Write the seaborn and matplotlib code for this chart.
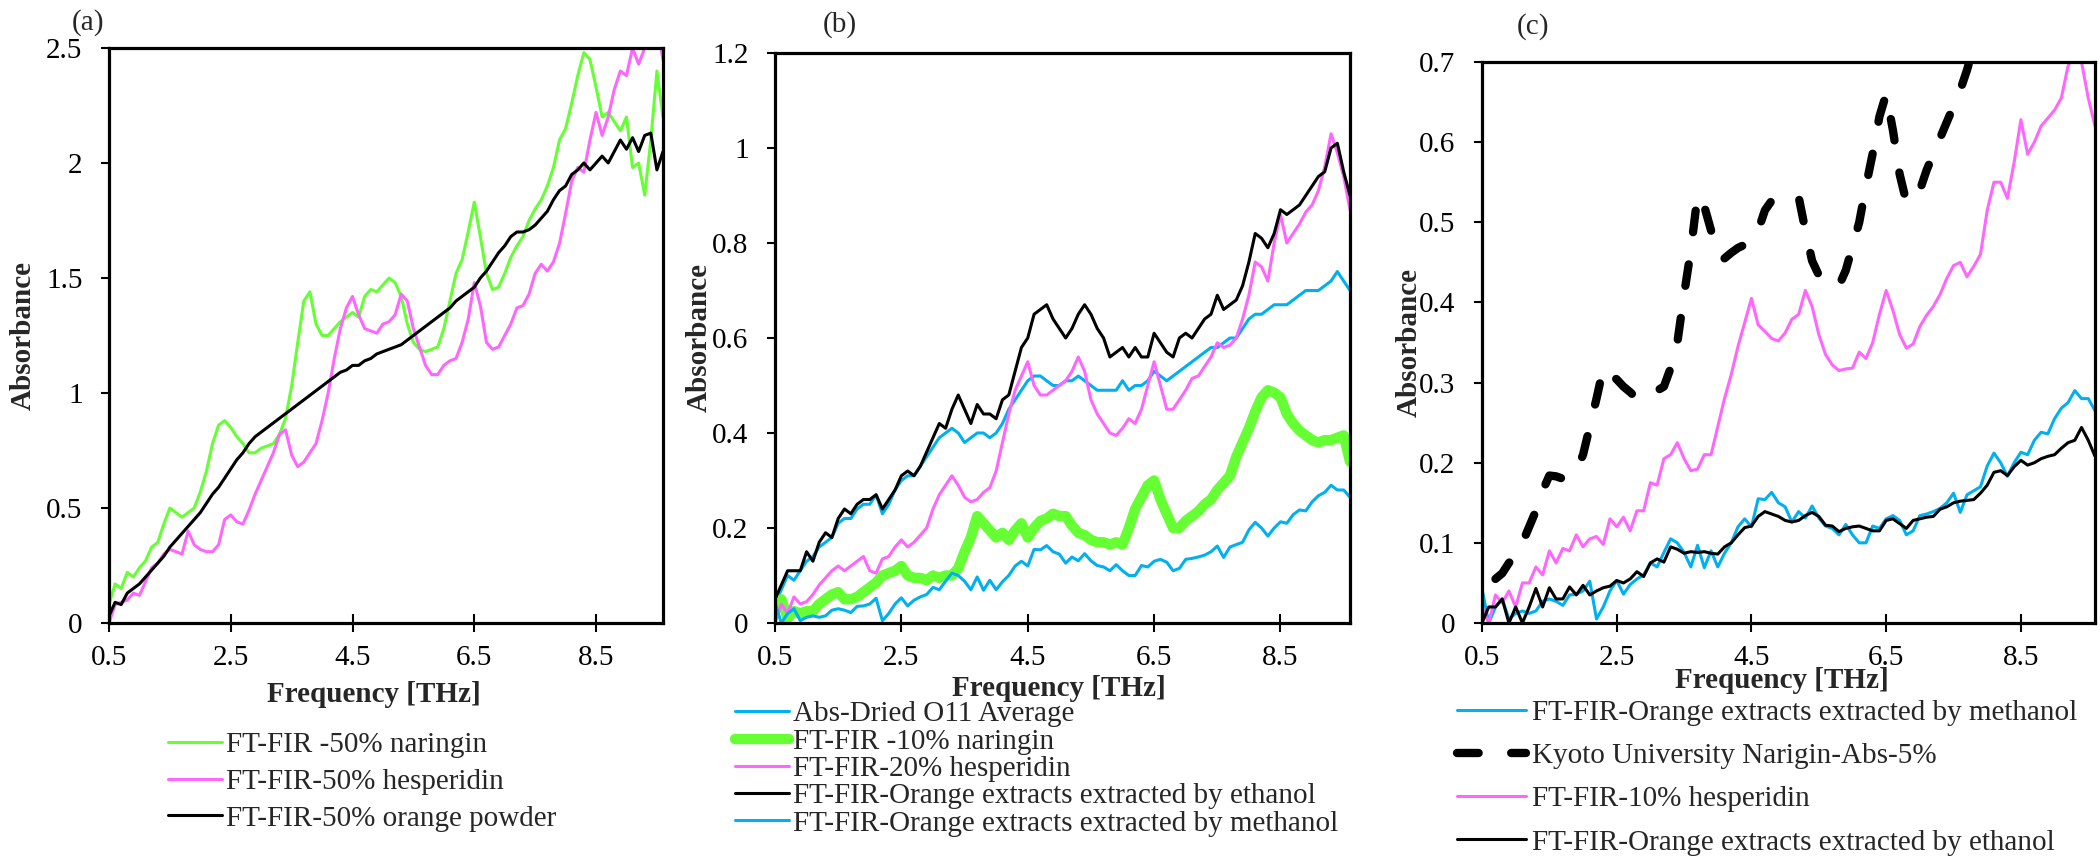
import numpy as np
import pandas as pd
import matplotlib
matplotlib.use("Agg")
import matplotlib.pyplot as plt
import seaborn as sns

# ---------------- data ----------------
freq = [0.5, 0.6, 0.7, 0.8, 0.9, 1.0, 1.1, 1.2, 1.3, 1.4,
        1.5, 1.6, 1.7, 1.8, 1.9, 2.0, 2.1, 2.2, 2.3, 2.4,
        2.5, 2.6, 2.7, 2.8, 2.9, 3.0, 3.1, 3.2, 3.3, 3.4,
        3.5, 3.6, 3.7, 3.8, 3.9, 4.0, 4.1, 4.2, 4.3, 4.4,
        4.5, 4.6, 4.7, 4.8, 4.9, 5.0, 5.1, 5.2, 5.3, 5.4,
        5.5, 5.6, 5.7, 5.8, 5.9, 6.0, 6.1, 6.2, 6.3, 6.4,
        6.5, 6.6, 6.7, 6.8, 6.9, 7.0, 7.1, 7.2, 7.3, 7.4,
        7.5, 7.6, 7.7, 7.8, 7.9, 8.0, 8.1, 8.2, 8.3, 8.4,
        8.5, 8.6, 8.7, 8.8, 8.9, 9.0, 9.1, 9.2, 9.3, 9.4,
        9.5, 9.6]

# panel (a)
a_naringin50 = [0.08, 0.17, 0.15, 0.22, 0.20, 0.24, 0.27, 0.33, 0.35, 0.43,
                0.50, 0.48, 0.46, 0.48, 0.50, 0.57, 0.66, 0.78, 0.86, 0.88,
                0.85, 0.81, 0.78, 0.74, 0.74, 0.76, 0.77, 0.78, 0.82, 0.89,
                1.03, 1.22, 1.40, 1.44, 1.30, 1.25, 1.25, 1.28, 1.31, 1.33,
                1.35, 1.33, 1.42, 1.45, 1.44, 1.47, 1.50, 1.48, 1.42, 1.30,
                1.22, 1.19, 1.18, 1.19, 1.20, 1.28, 1.40, 1.52, 1.58, 1.70,
                1.83, 1.68, 1.52, 1.45, 1.46, 1.52, 1.59, 1.64, 1.68, 1.75,
                1.80, 1.84, 1.90, 1.98, 2.10, 2.15, 2.26, 2.38, 2.48, 2.45,
                2.33, 2.20, 2.22, 2.18, 2.14, 2.20, 1.98, 2.00, 1.86, 2.10,
                2.40, 2.20]
a_hesperidin50 = [0.00, 0.08, 0.09, 0.10, 0.13, 0.12, 0.18, 0.24, 0.26, 0.30,
                  0.32, 0.31, 0.30, 0.40, 0.34, 0.32, 0.31, 0.31, 0.34, 0.45,
                  0.47, 0.44, 0.43, 0.49, 0.56, 0.62, 0.68, 0.74, 0.82, 0.84,
                  0.73, 0.68, 0.70, 0.74, 0.78, 0.88, 1.00, 1.15, 1.28, 1.37,
                  1.42, 1.34, 1.28, 1.27, 1.26, 1.30, 1.31, 1.34, 1.43, 1.40,
                  1.28, 1.20, 1.12, 1.08, 1.08, 1.12, 1.14, 1.15, 1.22, 1.32,
                  1.48, 1.38, 1.22, 1.19, 1.20, 1.25, 1.30, 1.37, 1.38, 1.43,
                  1.52, 1.56, 1.53, 1.57, 1.65, 1.78, 1.92, 1.98, 1.96, 2.10,
                  2.22, 2.12, 2.20, 2.32, 2.40, 2.38, 2.50, 2.43, 2.50, 2.60,
                  2.60, 2.45]
a_orange50 = [0.03, 0.09, 0.08, 0.13, 0.15, 0.17, 0.20, 0.23, 0.26, 0.29,
              0.33, 0.36, 0.39, 0.42, 0.45, 0.48, 0.52, 0.56, 0.59, 0.63,
              0.67, 0.71, 0.74, 0.78, 0.81, 0.83, 0.85, 0.87, 0.89, 0.91,
              0.93, 0.95, 0.97, 0.99, 1.01, 1.03, 1.05, 1.07, 1.09, 1.10,
              1.12, 1.12, 1.14, 1.15, 1.17, 1.18, 1.19, 1.20, 1.21, 1.23,
              1.25, 1.27, 1.29, 1.31, 1.33, 1.35, 1.37, 1.40, 1.42, 1.44,
              1.46, 1.50, 1.53, 1.57, 1.61, 1.64, 1.68, 1.70, 1.70, 1.71,
              1.73, 1.76, 1.79, 1.84, 1.88, 1.90, 1.95, 1.97, 2.00, 1.97,
              2.00, 2.03, 2.00, 2.05, 2.10, 2.06, 2.11, 2.05, 2.12, 2.13,
              1.97, 2.05]

# panel (b)
b_dried_o11 = [0.04, 0.07, 0.10, 0.09, 0.11, 0.13, 0.14, 0.16, 0.17, 0.18,
               0.21, 0.22, 0.22, 0.24, 0.25, 0.25, 0.27, 0.23, 0.25, 0.28,
               0.30, 0.31, 0.31, 0.33, 0.35, 0.37, 0.39, 0.40, 0.41, 0.40,
               0.38, 0.39, 0.40, 0.40, 0.39, 0.40, 0.42, 0.45, 0.47, 0.49,
               0.51, 0.52, 0.52, 0.51, 0.50, 0.50, 0.51, 0.51, 0.52, 0.51,
               0.50, 0.49, 0.49, 0.49, 0.49, 0.51, 0.49, 0.50, 0.50, 0.51,
               0.53, 0.52, 0.51, 0.52, 0.53, 0.54, 0.55, 0.56, 0.57, 0.58,
               0.58, 0.59, 0.60, 0.60, 0.62, 0.64, 0.65, 0.65, 0.66, 0.67,
               0.67, 0.67, 0.68, 0.69, 0.70, 0.70, 0.70, 0.71, 0.72, 0.74,
               0.72, 0.70]
b_naringin10 = [0.030, 0.050, 0.010, 0.025, 0.020, 0.025, 0.025, 0.040, 0.050, 0.060,
                0.065, 0.050, 0.050, 0.055, 0.065, 0.075, 0.085, 0.100, 0.105, 0.110,
                0.120, 0.100, 0.095, 0.095, 0.090, 0.100, 0.095, 0.100, 0.100, 0.115,
                0.150, 0.180, 0.225, 0.210, 0.195, 0.180, 0.190, 0.175, 0.195, 0.210,
                0.180, 0.200, 0.215, 0.220, 0.230, 0.225, 0.225, 0.205, 0.190, 0.185,
                0.175, 0.170, 0.170, 0.165, 0.170, 0.165, 0.200, 0.240, 0.265, 0.290,
                0.300, 0.260, 0.230, 0.200, 0.200, 0.215, 0.225, 0.235, 0.250, 0.260,
                0.280, 0.295, 0.310, 0.350, 0.380, 0.410, 0.445, 0.475, 0.490, 0.485,
                0.475, 0.440, 0.420, 0.405, 0.395, 0.385, 0.380, 0.385, 0.385, 0.390,
                0.395, 0.340]
b_hesperidin20 = [0.000, 0.040, 0.020, 0.055, 0.040, 0.045, 0.060, 0.080, 0.095, 0.110,
                  0.120, 0.110, 0.120, 0.130, 0.140, 0.110, 0.105, 0.135, 0.140, 0.160,
                  0.175, 0.160, 0.170, 0.185, 0.200, 0.240, 0.270, 0.290, 0.310, 0.290,
                  0.265, 0.255, 0.260, 0.275, 0.285, 0.320, 0.380, 0.440, 0.490, 0.520,
                  0.550, 0.500, 0.480, 0.480, 0.490, 0.500, 0.510, 0.530, 0.560, 0.530,
                  0.470, 0.440, 0.420, 0.400, 0.395, 0.410, 0.430, 0.420, 0.450, 0.500,
                  0.550, 0.500, 0.450, 0.450, 0.470, 0.490, 0.515, 0.520, 0.540, 0.560,
                  0.590, 0.580, 0.585, 0.600, 0.640, 0.690, 0.760, 0.750, 0.720, 0.800,
                  0.860, 0.800, 0.820, 0.840, 0.865, 0.880, 0.910, 0.960, 1.030, 0.990,
                  0.940, 0.870]
b_ethanol = [0.05, 0.08, 0.11, 0.11, 0.11, 0.15, 0.13, 0.17, 0.19, 0.18,
             0.22, 0.24, 0.23, 0.25, 0.26, 0.26, 0.27, 0.24, 0.26, 0.28,
             0.31, 0.32, 0.31, 0.33, 0.36, 0.39, 0.42, 0.41, 0.45, 0.48,
             0.45, 0.42, 0.46, 0.44, 0.44, 0.43, 0.47, 0.48, 0.53, 0.58,
             0.60, 0.65, 0.66, 0.67, 0.64, 0.62, 0.60, 0.62, 0.65, 0.67,
             0.65, 0.62, 0.60, 0.56, 0.57, 0.58, 0.56, 0.58, 0.56, 0.56,
             0.61, 0.59, 0.57, 0.56, 0.60, 0.61, 0.60, 0.62, 0.64, 0.65,
             0.69, 0.66, 0.67, 0.68, 0.71, 0.76, 0.82, 0.81, 0.79, 0.82,
             0.87, 0.86, 0.87, 0.88, 0.90, 0.92, 0.94, 0.95, 1.00, 1.01,
             0.95, 0.90]
methanol = [0.043, 0.000, 0.020, 0.030, 0.005, 0.012, 0.015, 0.012, 0.015, 0.027,
            0.030, 0.027, 0.022, 0.035, 0.036, 0.040, 0.052, 0.005, 0.020, 0.040,
            0.053, 0.036, 0.048, 0.055, 0.060, 0.075, 0.070, 0.088, 0.105, 0.100,
            0.088, 0.070, 0.097, 0.069, 0.090, 0.070, 0.087, 0.100, 0.120, 0.130,
            0.120, 0.155, 0.154, 0.163, 0.150, 0.145, 0.126, 0.139, 0.131, 0.146,
            0.131, 0.121, 0.118, 0.110, 0.123, 0.110, 0.100, 0.100, 0.121, 0.118,
            0.130, 0.134, 0.128, 0.110, 0.115, 0.134, 0.136, 0.139, 0.143, 0.150,
            0.162, 0.138, 0.160, 0.165, 0.170, 0.196, 0.212, 0.200, 0.183, 0.200,
            0.213, 0.210, 0.228, 0.238, 0.236, 0.255, 0.268, 0.275, 0.290, 0.280,
            0.280, 0.265]

# panel (c)
c_kyoto = [np.nan, np.nan, 0.055, 0.062, 0.075, 0.085, 0.100, 0.120, 0.140, 0.165,
           0.184, 0.183, 0.180, 0.184, 0.190, 0.210, 0.245, 0.280, 0.318, 0.310,
           0.304, 0.295, 0.288, 0.280, 0.280, 0.283, 0.290, 0.295, 0.318, 0.350,
           0.410, 0.465, 0.534, 0.520, 0.490, 0.460, 0.455, 0.462, 0.468, 0.472,
           0.477, 0.490, 0.515, 0.527, 0.527, 0.528, 0.530, 0.532, 0.490, 0.452,
           0.434, 0.425, 0.422, 0.421, 0.440, 0.470, 0.500, 0.545, 0.586, 0.632,
           0.660, 0.615, 0.560, 0.525, 0.530, 0.540, 0.565, 0.585, 0.605, 0.625,
           0.645, 0.665, 0.690, 0.720, 0.750, np.nan, np.nan, np.nan, np.nan, np.nan,
           np.nan, np.nan, np.nan, np.nan, np.nan, np.nan, np.nan, np.nan, np.nan, np.nan,
           np.nan, np.nan]
c_hesperidin10 = [0.020, 0.000, 0.035, 0.025, 0.040, 0.020, 0.050, 0.050, 0.070, 0.060,
                  0.090, 0.075, 0.093, 0.090, 0.110, 0.095, 0.105, 0.108, 0.098, 0.130,
                  0.120, 0.132, 0.115, 0.140, 0.140, 0.175, 0.172, 0.205, 0.210, 0.225,
                  0.205, 0.190, 0.192, 0.210, 0.210, 0.245, 0.280, 0.310, 0.345, 0.375,
                  0.405, 0.372, 0.364, 0.355, 0.352, 0.362, 0.379, 0.385, 0.415, 0.395,
                  0.360, 0.335, 0.322, 0.315, 0.317, 0.318, 0.338, 0.330, 0.350, 0.385,
                  0.415, 0.390, 0.360, 0.343, 0.348, 0.370, 0.384, 0.395, 0.410, 0.430,
                  0.446, 0.450, 0.432, 0.445, 0.460, 0.515, 0.550, 0.550, 0.530, 0.575,
                  0.628, 0.585, 0.600, 0.620, 0.630, 0.640, 0.655, 0.695, 0.710, 0.700,
                  0.655, 0.620]
c_ethanol = [0.000, 0.020, 0.020, 0.030, 0.000, 0.020, 0.000, 0.020, 0.043, 0.020,
             0.044, 0.030, 0.030, 0.045, 0.035, 0.047, 0.035, 0.040, 0.044, 0.046,
             0.053, 0.050, 0.055, 0.064, 0.058, 0.075, 0.080, 0.076, 0.095, 0.092,
             0.087, 0.089, 0.088, 0.089, 0.087, 0.086, 0.095, 0.100, 0.110, 0.119,
             0.121, 0.133, 0.139, 0.136, 0.133, 0.128, 0.126, 0.128, 0.134, 0.138,
             0.133, 0.122, 0.121, 0.114, 0.118, 0.120, 0.121, 0.118, 0.115, 0.115,
             0.128, 0.130, 0.124, 0.118, 0.128, 0.130, 0.132, 0.133, 0.142, 0.145,
             0.150, 0.152, 0.153, 0.154, 0.162, 0.172, 0.188, 0.190, 0.184, 0.195,
             0.203, 0.197, 0.200, 0.205, 0.208, 0.210, 0.218, 0.225, 0.228, 0.244,
             0.228, 0.208]

x_ticks = [0.5, 2.5, 4.5, 6.5, 8.5]
x_tick_labels = ["0.5", "2.5", "4.5", "6.5", "8.5"]
a_yticks = [0, 0.5, 1, 1.5, 2, 2.5]
a_ylabels = ["0", "0.5", "1", "1.5", "2", "2.5"]
b_yticks = [0, 0.2, 0.4, 0.6, 0.8, 1.0, 1.2]
b_ylabels = ["0", "0.2", "0.4", "0.6", "0.8", "1", "1.2"]
c_yticks = [0, 0.1, 0.2, 0.3, 0.4, 0.5, 0.6, 0.7]
c_ylabels = ["0", "0.1", "0.2", "0.3", "0.4", "0.5", "0.6", "0.7"]

GREEN = "#66FF33"
MAGENTA = "#FF66FF"
BLUE = "#00B0F0"
BLACK = "#000000"

# ---------------- style ----------------
sns.set_style("ticks")
plt.rcParams["font.family"] = ["Liberation Serif", "DejaVu Serif"]
plt.rcParams["font.size"] = 21

fig = plt.figure(figsize=(21, 8.58), dpi=100)
W, H = 2100.0, 858.0


def make_ax(l, r, t, b):
    return fig.add_axes([l / W, (H - b) / H, (r - l) / W, (b - t) / H])


ax_a = make_ax(109, 663, 48, 623)
ax_b = make_ax(775, 1350, 53, 623)
ax_c = make_ax(1482, 2095, 62, 623)


def draw(ax, y, color, label, lw=2.2, **kw):
    df = pd.DataFrame({"f": freq, "v": y})
    sns.lineplot(data=df, x="f", y="v", ax=ax, color=color, linewidth=lw,
                 label=label, estimator=None, solid_joinstyle="round",
                 solid_capstyle="round", **kw)


# (a)
draw(ax_a, a_naringin50, GREEN, "FT-FIR -50% naringin")
draw(ax_a, a_hesperidin50, MAGENTA, "FT-FIR-50% hesperidin")
draw(ax_a, a_orange50, BLACK, "FT-FIR-50% orange powder")

# (b)
draw(ax_b, b_dried_o11, BLUE, "Abs-Dried O11 Average")
draw(ax_b, b_naringin10, GREEN, "FT-FIR -10% naringin", lw=7.5)
draw(ax_b, b_hesperidin20, MAGENTA, "FT-FIR-20% hesperidin")
draw(ax_b, b_ethanol, BLACK, "FT-FIR-Orange extracts extracted by ethanol")
draw(ax_b, methanol, BLUE, "FT-FIR-Orange extracts extracted by methanol")

# (c)
draw(ax_c, methanol, BLUE, "FT-FIR-Orange extracts extracted by methanol")
draw(ax_c, c_kyoto, BLACK, "Kyoto University Narigin-Abs-5%", lw=6,
     linestyle=(0, (2.6, 3.9)), dash_capstyle="round")
draw(ax_c, c_hesperidin10, MAGENTA, "FT-FIR-10% hesperidin")
draw(ax_c, c_ethanol, BLACK, "FT-FIR-Orange extracts extracted by ethanol")

# ax, ymax, yticks, ylabels, tag, tag pos, xlabel pos, ylabel pos,
# legend (x, top, labelspacing, handlelength, handletextpad)
setup = [
    (ax_a, 2.5, a_yticks, a_ylabels, "(a)", (88, 23), (0.478, -0.125), (-0.155, 0.5),
     (168, 732, 0.35, 1.85, 0.15)),
    (ax_b, 1.2, b_yticks, b_ylabels, "(b)", (840, 25), (0.494, -0.115), (-0.132, 0.5),
     (735, 701, 0.03, 1.85, 0.15)),
    (ax_c, 0.7, c_yticks, c_ylabels, "(c)", (1533, 27), (0.489, -0.102), (-0.119, 0.5),
     (1457, 700, 0.57, 2.36, 0.2)),
]

for ax, ymax, yt, yl, tag, tagpos, xlpos, ylpos, leg in setup:
    ax.set_xlim(0.5, 9.6)
    ax.set_ylim(0, ymax)
    ax.set_xticks(x_ticks)
    ax.set_xticklabels(x_tick_labels)
    ax.set_yticks(yt)
    ax.set_yticklabels(yl)
    for s in ax.spines.values():
        s.set_visible(True)
        s.set_linewidth(2.3)
        s.set_color("black")
    ax.tick_params(axis="x", direction="inout", length=13, width=1.5,
                   pad=9, labelsize=21, colors="black")
    ax.tick_params(axis="y", direction="out", length=6, width=1.5,
                   pad=13, labelsize=21, colors="black")
    ax.set_xlabel("Frequency [THz]", fontsize=21, fontweight="bold")
    ax.set_ylabel("Absorbance", fontsize=21, fontweight="bold")
    ax.xaxis.label.set_va("center")
    ax.yaxis.label.set_va("center")
    ax.xaxis.set_label_coords(*xlpos)
    ax.yaxis.set_label_coords(*ylpos)
    ax.set_facecolor("white")
    fig.text(tagpos[0] / W, 1 - tagpos[1] / H, tag, ha="center", va="center",
             fontsize=21)
    handles, labels = ax.get_legend_handles_labels()
    if ax.get_legend() is not None:
        ax.get_legend().remove()
    fig.legend(handles, labels, loc="upper left",
               bbox_to_anchor=(leg[0] / W, 1 - leg[1] / H),
               frameon=False, fontsize=21, borderpad=0, borderaxespad=0,
               handlelength=leg[3], handletextpad=leg[4], labelspacing=leg[2])

fig.savefig("out.png", dpi=100, facecolor="white")
